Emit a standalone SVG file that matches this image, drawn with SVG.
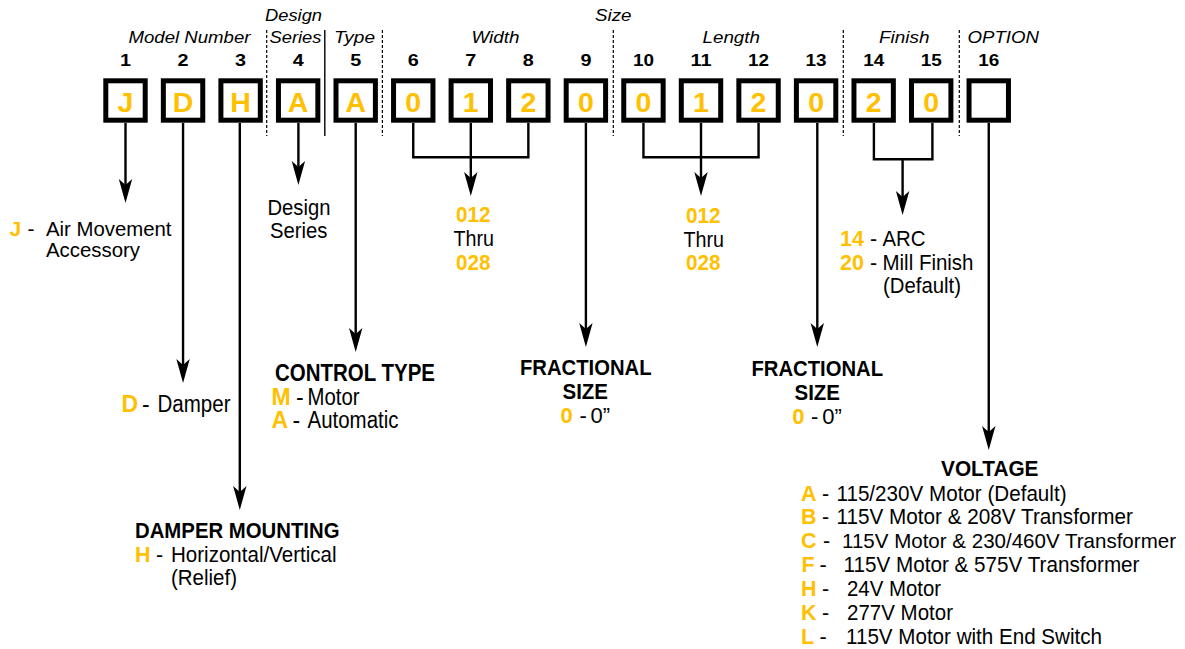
<svg xmlns="http://www.w3.org/2000/svg" width="1185" height="649" viewBox="0 0 1185 649">
<defs>
<style>
text{font-family:"Liberation Sans",Arial,sans-serif;fill:#000}
.hd{font-style:italic;font-size:16.3px}
.num{font-weight:bold;font-size:16px;text-anchor:middle}
.bl{font-weight:bold;font-size:28.5px;fill:#FFC000;text-anchor:middle}
.t{font-size:21.5px}
.b{font-size:22px;font-weight:bold}
.y{font-size:21.5px;font-weight:bold;fill:#FFC000}
.c{text-anchor:middle}
.s23{font-size:23px}
.s22{font-size:22px}
.s21{font-size:21px}
.box{fill:#fff;stroke:#000;stroke-width:5}
.ln{fill:none;stroke:#000;stroke-width:2.4}
.sep{stroke:#000;stroke-width:1.2;stroke-dasharray:3 2}
.sol{stroke:#000;stroke-width:1.4}
</style>
<marker id="ah" markerUnits="userSpaceOnUse" markerWidth="40" markerHeight="40" refX="0" refY="0" orient="auto" overflow="visible" viewBox="-20 -20 40 40">
<path d="M10,0 L-14,-6.7 L-8,0 L-14,6.7 Z" fill="#000"/>
</marker>
</defs>
<rect width="1185" height="649" fill="#fff"/>

<g id="headers">
<text class="hd" x="265" y="20.5" textLength="57" lengthAdjust="spacingAndGlyphs">Design</text>
<text class="hd" x="595" y="20.5" textLength="36.5" lengthAdjust="spacingAndGlyphs">Size</text>
<text class="hd" x="128.5" y="42.7" textLength="122" lengthAdjust="spacingAndGlyphs">Model Number</text>
<text class="hd" x="269.5" y="42.7" textLength="52" lengthAdjust="spacingAndGlyphs">Series</text>
<text class="hd" x="334" y="42.7" textLength="41" lengthAdjust="spacingAndGlyphs">Type</text>
<text class="hd" x="471.5" y="42.7" textLength="48" lengthAdjust="spacingAndGlyphs">Width</text>
<text class="hd" x="702.5" y="42.7" textLength="57.5" lengthAdjust="spacingAndGlyphs">Length</text>
<text class="hd" x="879" y="42.7" textLength="50.5" lengthAdjust="spacingAndGlyphs">Finish</text>
<text class="hd" x="967.5" y="42.7" textLength="71.5" lengthAdjust="spacingAndGlyphs">OPTION</text>
</g>

<g id="separators">
<line class="sep" x1="266.7" y1="30" x2="266.7" y2="136"/>
<line class="sol" x1="324.8" y1="30" x2="324.8" y2="136"/>
<line class="sep" x1="382.4" y1="30" x2="382.4" y2="136"/>
<line class="sep" x1="613.3" y1="30" x2="613.3" y2="136"/>
<line class="sep" x1="843.3" y1="30" x2="843.3" y2="136"/>
<line class="sep" x1="959.3" y1="30" x2="959.3" y2="136"/>
</g>

<g id="connectors">
<path class="ln" d="M125.5,123 V193" marker-end="url(#ah)"/>
<path class="ln" d="M183.05,123 V373" marker-end="url(#ah)"/>
<path class="ln" d="M239.8,123 V500" marker-end="url(#ah)"/>
<path class="ln" d="M298.4,123 V175" marker-end="url(#ah)"/>
<path class="ln" d="M355.7,123 V342" marker-end="url(#ah)"/>
<path class="ln" d="M413.25,123 V157.3 H528.35 V123"/>
<path class="ln" d="M470.8,123 V186" marker-end="url(#ah)"/>
<path class="ln" d="M585.9,123 V337" marker-end="url(#ah)"/>
<path class="ln" d="M643.45,123 V157.3 H758.55 V123"/>
<path class="ln" d="M701,123 V186" marker-end="url(#ah)"/>
<path class="ln" d="M817.3,123 V337" marker-end="url(#ah)"/>
<path class="ln" d="M873.9,123 V159.3 H932.4 V123"/>
<path class="ln" d="M902.6,159.3 V205" marker-end="url(#ah)"/>
<path class="ln" d="M988.75,123 V440" marker-end="url(#ah)"/>
</g>

<g id="box1"><rect class="box" x="105.8" y="80.8" width="39.4" height="39.4"/><text class="num" x="125.5" y="65.5" textLength="11" lengthAdjust="spacingAndGlyphs">1</text><text class="bl" x="125.5" y="111.5">J</text></g>
<g id="box2"><rect class="box" x="163.35" y="80.8" width="39.4" height="39.4"/><text class="num" x="183.05" y="65.5" textLength="11" lengthAdjust="spacingAndGlyphs">2</text><text class="bl" x="183.05" y="111.5">D</text></g>
<g id="box3"><rect class="box" x="220.9" y="80.8" width="39.4" height="39.4"/><text class="num" x="240.6" y="65.5" textLength="11" lengthAdjust="spacingAndGlyphs">3</text><text class="bl" x="240.6" y="111.5">H</text></g>
<g id="box4"><rect class="box" x="278.45" y="80.8" width="39.4" height="39.4"/><text class="num" x="298.15" y="65.5" textLength="11" lengthAdjust="spacingAndGlyphs">4</text><text class="bl" x="298.15" y="111.5">A</text></g>
<g id="box5"><rect class="box" x="336" y="80.8" width="39.4" height="39.4"/><text class="num" x="355.7" y="65.5" textLength="11" lengthAdjust="spacingAndGlyphs">5</text><text class="bl" x="355.7" y="111.5">A</text></g>
<g id="box6"><rect class="box" x="393.55" y="80.8" width="39.4" height="39.4"/><text class="num" x="413.25" y="65.5" textLength="11" lengthAdjust="spacingAndGlyphs">6</text><text class="bl" x="413.25" y="111.5">0</text></g>
<g id="box7"><rect class="box" x="451.1" y="80.8" width="39.4" height="39.4"/><text class="num" x="470.8" y="65.5" textLength="11" lengthAdjust="spacingAndGlyphs">7</text><text class="bl" x="470.8" y="111.5">1</text></g>
<g id="box8"><rect class="box" x="508.65" y="80.8" width="39.4" height="39.4"/><text class="num" x="528.35" y="65.5" textLength="11" lengthAdjust="spacingAndGlyphs">8</text><text class="bl" x="528.35" y="111.5">2</text></g>
<g id="box9"><rect class="box" x="566.2" y="80.8" width="39.4" height="39.4"/><text class="num" x="585.9" y="65.5" textLength="11" lengthAdjust="spacingAndGlyphs">9</text><text class="bl" x="585.9" y="111.5">0</text></g>
<g id="box10"><rect class="box" x="623.75" y="80.8" width="39.4" height="39.4"/><text class="num" x="643.45" y="65.5" textLength="21" lengthAdjust="spacingAndGlyphs">10</text><text class="bl" x="643.45" y="111.5">0</text></g>
<g id="box11"><rect class="box" x="681.3" y="80.8" width="39.4" height="39.4"/><text class="num" x="701" y="65.5" textLength="21" lengthAdjust="spacingAndGlyphs">11</text><text class="bl" x="701" y="111.5">1</text></g>
<g id="box12"><rect class="box" x="738.85" y="80.8" width="39.4" height="39.4"/><text class="num" x="758.55" y="65.5" textLength="21" lengthAdjust="spacingAndGlyphs">12</text><text class="bl" x="758.55" y="111.5">2</text></g>
<g id="box13"><rect class="box" x="796.4" y="80.8" width="39.4" height="39.4"/><text class="num" x="816.1" y="65.5" textLength="21" lengthAdjust="spacingAndGlyphs">13</text><text class="bl" x="816.1" y="111.5">0</text></g>
<g id="box14"><rect class="box" x="853.95" y="80.8" width="39.4" height="39.4"/><text class="num" x="873.65" y="65.5" textLength="21" lengthAdjust="spacingAndGlyphs">14</text><text class="bl" x="873.65" y="111.5">2</text></g>
<g id="box15"><rect class="box" x="911.5" y="80.8" width="39.4" height="39.4"/><text class="num" x="931.2" y="65.5" textLength="21" lengthAdjust="spacingAndGlyphs">15</text><text class="bl" x="931.2" y="111.5">0</text></g>
<g id="box16"><rect class="box" x="969.05" y="80.8" width="39.4" height="39.4"/><text class="num" x="988.75" y="65.5" textLength="21" lengthAdjust="spacingAndGlyphs">16</text></g>

<g id="model-type">
<text class="y s21" x="9.5" y="235.5">J</text>
<text class="t s21" x="27.5" y="235.5">-</text>
<text class="t s21" x="46" y="235.5" textLength="125.5" lengthAdjust="spacingAndGlyphs">Air Movement</text>
<text class="t s21" x="46" y="257.3" textLength="94" lengthAdjust="spacingAndGlyphs">Accessory</text>
</g>

<g id="damper">
<text class="y s23" x="121.5" y="411.7">D</text>
<text class="t s23" x="142" y="411.7">-</text>
<text class="t s23" x="157.5" y="411.7" textLength="73" lengthAdjust="spacingAndGlyphs">Damper</text>
</g>

<g id="damper-mounting">
<text class="b" x="135" y="538.3" textLength="204.5" lengthAdjust="spacingAndGlyphs">DAMPER MOUNTING</text>
<text class="y" x="135" y="562.3">H</text>
<text class="t" x="156" y="562.3">-</text>
<text class="t" x="171" y="562.3" textLength="165.5" lengthAdjust="spacingAndGlyphs">Horizontal/Vertical</text>
<text class="t" x="171" y="585" textLength="66" lengthAdjust="spacingAndGlyphs">(Relief)</text>
</g>

<g id="design-series">
<text class="t s22" x="267.5" y="214.5" textLength="63" lengthAdjust="spacingAndGlyphs">Design</text>
<text class="t s22" x="270" y="238.3" textLength="57.5" lengthAdjust="spacingAndGlyphs">Series</text>
</g>

<g id="control-type">
<text class="b s23" x="275" y="381" textLength="160" lengthAdjust="spacingAndGlyphs">CONTROL TYPE</text>
<text class="y s23" x="271.5" y="404.5">M</text>
<text class="t s23" x="296" y="404.5">-</text>
<text class="t s23" x="307.5" y="404.5" textLength="52" lengthAdjust="spacingAndGlyphs">Motor</text>
<text class="y s23" x="271.5" y="428">A</text>
<text class="t s23" x="292.5" y="428">-</text>
<text class="t s23" x="307.5" y="428" textLength="91" lengthAdjust="spacingAndGlyphs">Automatic</text>
</g>

<g id="width-range">
<text class="y c" x="473.3" y="221.7" textLength="34.5" lengthAdjust="spacingAndGlyphs">012</text>
<text class="t c s22" x="473.7" y="246" textLength="40.5" lengthAdjust="spacingAndGlyphs">Thru</text>
<text class="y c" x="473.3" y="270" textLength="34.5" lengthAdjust="spacingAndGlyphs">028</text>
</g>

<g id="fractional-width">
<text class="b" x="520" y="375" textLength="131.5" lengthAdjust="spacingAndGlyphs">FRACTIONAL</text>
<text class="b" x="562.5" y="399.3" textLength="45.5" lengthAdjust="spacingAndGlyphs">SIZE</text>
<text class="y s22" x="560.5" y="423.3">0</text>
<text class="t s22" x="579.5" y="423.3">-</text>
<text class="t s22" x="590.5" y="423.3">0”</text>
</g>

<g id="length-range">
<text class="y c" x="703.3" y="222.5" textLength="34.5" lengthAdjust="spacingAndGlyphs">012</text>
<text class="t c s22" x="703.7" y="246.5" textLength="40.5" lengthAdjust="spacingAndGlyphs">Thru</text>
<text class="y c" x="703.3" y="270" textLength="34.5" lengthAdjust="spacingAndGlyphs">028</text>
</g>

<g id="fractional-length">
<text class="b" x="751.5" y="375.7" textLength="131.5" lengthAdjust="spacingAndGlyphs">FRACTIONAL</text>
<text class="b" x="794.5" y="400" textLength="45.5" lengthAdjust="spacingAndGlyphs">SIZE</text>
<text class="y s22" x="792.3" y="424">0</text>
<text class="t s22" x="811" y="424">-</text>
<text class="t s22" x="822.3" y="424">0”</text>
</g>

<g id="finish">
<text class="y" x="840" y="246">14</text>
<text class="t" x="870" y="246">-</text>
<text class="t s22" x="882.5" y="246" textLength="43" lengthAdjust="spacingAndGlyphs">ARC</text>
<text class="y" x="840" y="269.5">20</text>
<text class="t" x="870" y="269.5">-</text>
<text class="t s22" x="882.5" y="269.5" textLength="91" lengthAdjust="spacingAndGlyphs">Mill Finish</text>
<text class="t" x="883" y="292.5" textLength="78" lengthAdjust="spacingAndGlyphs">(Default)</text>
</g>

<g id="voltage">
<text class="b" x="941" y="476" textLength="97.5" lengthAdjust="spacingAndGlyphs">VOLTAGE</text>
<text class="y" x="801" y="500.7">A</text>
<text class="t" x="822" y="500.7">-</text>
<text class="t" x="836.5" y="500.7" textLength="230" lengthAdjust="spacingAndGlyphs">115/230V Motor (Default)</text>
<text class="y" x="801" y="524">B</text>
<text class="t" x="822" y="524">-</text>
<text class="t" x="836.5" y="524" textLength="296.5" lengthAdjust="spacingAndGlyphs">115V Motor &amp; 208V Transformer</text>
<text class="y" x="801" y="548.3">C</text>
<text class="t" x="823" y="548.3">-</text>
<text class="t" x="842" y="548.3" style="font-size:20.4px" textLength="334" lengthAdjust="spacingAndGlyphs">115V Motor &amp; 230/460V Transformer</text>
<text class="y" x="801.5" y="571.7">F</text>
<text class="t" x="819.5" y="571.7">-</text>
<text class="t" x="843.5" y="571.7" textLength="296" lengthAdjust="spacingAndGlyphs">115V Motor &amp; 575V Transformer</text>
<text class="y" x="801" y="596">H</text>
<text class="t" x="822" y="596">-</text>
<text class="t" x="847" y="596" textLength="94" lengthAdjust="spacingAndGlyphs">24V Motor</text>
<text class="y" x="801" y="620">K</text>
<text class="t" x="822" y="620">-</text>
<text class="t" x="847" y="620" textLength="106" lengthAdjust="spacingAndGlyphs">277V Motor</text>
<text class="y" x="801" y="644">L</text>
<text class="t" x="819.5" y="644">-</text>
<text class="t" x="846" y="644" textLength="256" lengthAdjust="spacingAndGlyphs">115V Motor with End Switch</text>
</g>
</svg>
